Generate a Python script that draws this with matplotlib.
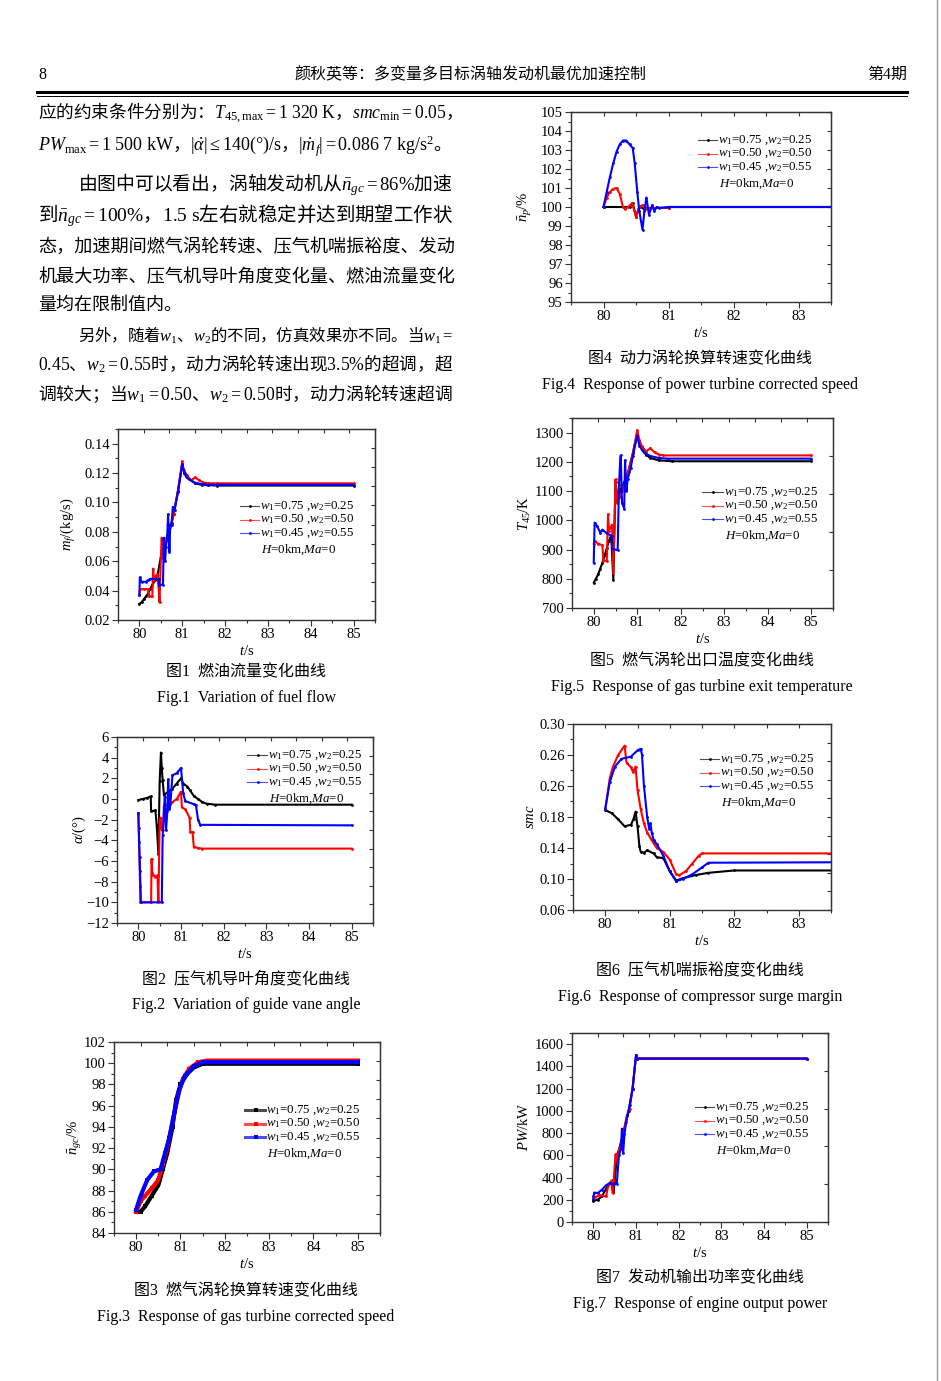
import numpy as np
import matplotlib
matplotlib.use('Agg')
import matplotlib.pyplot as plt
from matplotlib.lines import Line2D
from matplotlib.ticker import MultipleLocator

plt.rcParams['font.family'] = ['Liberation Serif', 'Noto Sans CJK SC']
plt.rcParams['mathtext.fontset'] = 'custom'
plt.rcParams['mathtext.rm'] = 'Liberation Serif'
plt.rcParams['mathtext.it'] = 'Liberation Serif:italic'
plt.rcParams['mathtext.bf'] = 'Liberation Serif:bold'

# ---- data ----
COLORS = ['#000000', '#ff0000', '#0000ff']
LEGEND_LABELS = [r'$w_1$=0.75 ,$w_2$=0.25', r'$w_1$=0.50 ,$w_2$=0.50', r'$w_1$=0.45 ,$w_2$=0.55']
COND_LABEL = r'$H$=0km,$Ma$=0'

# Fig.1 fuel flow (kg/s)
fuel_t_black = [80.0, 80.05, 80.1, 80.15, 80.2, 80.25, 80.3, 80.37, 80.42, 80.5, 80.55, 80.6, 80.65, 80.7,
                80.75, 80.8, 80.9, 81.0, 81.05, 81.1, 81.2, 81.3, 81.45, 81.6, 81.8, 85.0]
fuel_black = [0.031, 0.032, 0.034, 0.036, 0.038, 0.041, 0.044, 0.047, 0.050, 0.063, 0.068, 0.071, 0.075, 0.080,
              0.086, 0.092, 0.108, 0.126, 0.120, 0.117, 0.115, 0.113, 0.112, 0.1118, 0.1115, 0.1115]
fuel_t_red = [80.0, 80.01, 80.1, 80.2, 80.22, 80.3, 80.32, 80.34, 80.38, 80.42, 80.44, 80.47, 80.5, 80.52,
              80.55, 80.6, 80.65, 80.7, 80.75, 80.8, 80.9, 81.0, 81.03, 81.1, 81.2, 81.3, 81.4, 81.5, 81.6,
              81.8, 85.0]
fuel_red = [0.037, 0.041, 0.041, 0.041, 0.036, 0.036, 0.055, 0.047, 0.050, 0.051, 0.045, 0.032, 0.062, 0.076,
            0.065, 0.070, 0.076, 0.080, 0.086, 0.092, 0.108, 0.128, 0.122, 0.119, 0.115, 0.117, 0.115, 0.1135,
            0.113, 0.113, 0.113]
fuel_t_blue = [80.0, 80.01, 80.05, 80.15, 80.2, 80.25, 80.45, 80.46, 80.55, 80.57, 80.6, 80.62, 80.65, 80.67,
               80.7, 80.72, 80.75, 80.78, 80.82, 80.9, 81.0, 81.05, 81.15, 81.3, 81.45, 81.6, 81.8, 85.0]
fuel_blue = [0.037, 0.049, 0.046, 0.046, 0.047, 0.048, 0.048, 0.044, 0.044, 0.076, 0.060, 0.070, 0.078, 0.092,
             0.066, 0.085, 0.085, 0.097, 0.095, 0.107, 0.126, 0.120, 0.116, 0.1135, 0.1125, 0.112, 0.112, 0.112]

# Fig.2 guide vane angle (deg)
alpha_t_black = [80.0, 80.1, 80.2, 80.29, 80.3, 80.4, 80.43, 80.47, 80.5, 80.53, 80.55, 80.57, 80.6, 80.7,
                 80.8, 80.9, 81.0, 81.05, 81.15, 81.2, 81.3, 81.4, 81.5, 81.6, 81.8, 85.0]
alpha_black = [-0.1, 0.0, 0.1, 0.25, -1.2, -1.1, -2.5, -5.3, 1.7, 4.5, 3.0, 1.8, 0.4, 0.7,
               1.0, 1.5, 2.0, 1.5, 1.2, 0.9, 0.3, 0.0, -0.3, -0.45, -0.55, -0.55]
alpha_t_red = [80.0, 80.05, 80.3, 80.31, 80.33, 80.35, 80.4, 80.45, 80.47, 80.5, 80.52, 80.55, 80.58, 80.6,
               80.7, 80.8, 80.9, 81.0, 81.02, 81.1, 81.2, 81.22, 81.27, 81.3, 81.4, 81.5, 85.0]
alpha_red = [-1.4, -10.0, -10.0, -5.8, -7.2, -7.4, -7.5, -7.4, -10.0, -2.2, -1.8, -3.0, -3.0, -0.6,
             -0.5, -0.3, 0.0, 0.7, -0.8, -1.0, -1.8, -3.2, -3.2, -4.6, -4.75, -4.8, -4.8]
alpha_t_blue = [80.0, 80.01, 80.02, 80.03, 80.04, 80.05, 80.06, 80.55, 80.57, 80.6, 80.62, 80.65, 80.68, 80.7,
                80.73, 80.75, 80.8, 80.9, 81.0, 81.05, 81.1, 81.3, 81.35, 81.4, 81.45, 85.0]
alpha_blue = [-1.4, -2.8, -4.2, -5.6, -7.0, -8.4, -10.0, -10.0, -3.5, -1.5, 0.2, -3.0, -1.2, 1.9,
              -1.0, -0.5, 2.3, 2.5, 3.0, 0.6, -0.2, -0.5, -0.6, -2.0, -2.5, -2.55]

# Fig.3 gas turbine corrected speed (%)
ngc_t_black = [80.0, 80.1, 80.2, 80.35, 80.5, 80.6, 80.7, 80.82, 80.9, 81.0, 81.15, 81.3, 81.5, 85.0]
ngc_black = [86.0, 86.0, 86.5, 87.5, 88.5, 90.0, 91.5, 94.0, 96.5, 98.0, 99.0, 99.6, 99.95, 99.95]
ngc_t_red = [80.0, 80.1, 80.2, 80.35, 80.5, 80.6, 80.7, 80.82, 80.95, 81.05, 81.2, 81.4, 81.6, 85.0]
ngc_red = [86.0, 87.0, 87.5, 88.2, 89.0, 90.5, 92.0, 94.5, 97.0, 98.5, 99.5, 100.1, 100.25, 100.25]
ngc_t_blue = [80.0, 80.1, 80.25, 80.4, 80.55, 80.65, 80.75, 80.87, 80.97, 81.1, 81.3, 81.5, 85.0]
ngc_blue = [86.2, 87.5, 89.0, 89.8, 90.0, 91.5, 93.0, 95.5, 97.5, 98.8, 99.7, 100.1, 100.1]

# Fig.4 power turbine corrected speed (%)
npt_t_black = [80.0, 80.4, 80.45, 80.5, 80.55, 80.6, 81.0, 81.01, 85.0]
npt_black = [100.0, 100.0, 100.2, 99.5, 100.0, 99.95, 99.95, 100.0, 100.0]
npt_t_red = [80.0, 80.05, 80.1, 80.15, 80.2, 80.25, 80.3, 80.33, 80.38, 80.44, 80.5, 80.55, 80.6, 80.65,
             80.7, 81.0, 81.01, 85.0]
npt_red = [100.0, 100.5, 100.8, 100.95, 101.0, 100.7, 100.0, 99.9, 100.0, 100.2, 99.5, 100.0, 100.1, 99.9,
           99.95, 99.95, 100.0, 100.0]
npt_t_blue = [80.0, 80.05, 80.1, 80.15, 80.2, 80.25, 80.3, 80.35, 80.4, 80.45, 80.48, 80.52, 80.55, 80.6,
              80.63, 80.66, 80.7, 80.75, 80.78, 80.82, 80.85, 81.0, 85.0]
npt_blue = [100.0, 100.8, 101.6, 102.3, 102.9, 103.3, 103.5, 103.5, 103.3, 103.1, 102.3, 100.8, 99.8, 98.8,
            99.8, 100.5, 99.6, 100.1, 99.8, 100.0, 99.95, 100.0, 100.0]

# Fig.5 gas turbine exit temperature (K)
t45_t_black = [80.0, 80.05, 80.1, 80.15, 80.2, 80.25, 80.3, 80.35, 80.4, 80.45, 80.5, 80.55, 80.6, 80.7,
               80.8, 80.9, 81.0, 81.05, 81.1, 81.2, 81.3, 81.5, 81.8, 85.0]
t45_black = [787, 800, 815, 835, 855, 880, 905, 930, 948, 797, 1130, 1075, 1100, 1130,
             1170, 1230, 1298, 1265, 1245, 1225, 1213, 1205, 1202, 1202]
t45_t_red = [80.0, 80.02, 80.1, 80.2, 80.22, 80.3, 80.32, 80.33, 80.35, 80.42, 80.45, 80.5, 80.53, 80.56,
             80.6, 80.65, 80.7, 80.8, 80.9, 81.0, 81.05, 81.1, 81.2, 81.3, 81.4, 81.5, 81.6, 85.0]
t45_red = [920, 930, 920, 915, 862, 862, 970, 1020, 965, 985, 820, 1140, 1060, 1095,
           1080, 1100, 1120, 1170, 1230, 1308, 1275, 1255, 1235, 1247, 1232, 1225, 1222, 1222]
t45_t_blue = [80.0, 80.02, 80.07, 80.15, 80.2, 80.3, 80.4, 80.42, 80.43, 80.55, 80.58, 80.6, 80.62, 80.65,
              80.7, 80.72, 80.75, 80.78, 80.85, 80.9, 81.0, 81.05, 81.15, 81.3, 81.5, 81.7, 85.0]
t45_blue = [855, 992, 982, 958, 968, 955, 948, 945, 902, 898, 1120, 1180, 1222, 1060,
            1040, 1205, 1100, 1140, 1180, 1220, 1290, 1255, 1232, 1220, 1213, 1211, 1211]

# Fig.6 compressor surge margin
smc_t_black = [80.0, 80.1, 80.2, 80.3, 80.4, 80.44, 80.47, 80.5, 80.53, 80.55, 80.6, 80.65, 80.75, 80.8,
               80.9, 81.0, 81.1, 81.2, 81.4, 81.6, 82.0, 85.0]
smc_black = [0.189, 0.185, 0.177, 0.168, 0.170, 0.178, 0.187, 0.168, 0.142, 0.135, 0.134, 0.137, 0.133, 0.128,
             0.127, 0.110, 0.098, 0.101, 0.105, 0.108, 0.111, 0.111]
smc_t_red = [80.0, 80.07, 80.12, 80.2, 80.3, 80.33, 80.4, 80.43, 80.47, 80.5, 80.55, 80.6, 80.65, 80.75,
             80.8, 80.9, 81.0, 81.1, 81.15, 81.25, 81.35, 81.45, 81.5, 85.0]
smc_red = [0.190, 0.230, 0.245, 0.260, 0.272, 0.250, 0.244, 0.238, 0.245, 0.215, 0.190, 0.172, 0.160, 0.146,
           0.140, 0.135, 0.125, 0.106, 0.105, 0.110, 0.120, 0.130, 0.133, 0.133]
smc_t_blue = [80.0, 80.07, 80.15, 80.25, 80.4, 80.5, 80.55, 80.57, 80.6, 80.65, 80.68, 80.7, 80.72, 80.75,
              80.8, 80.9, 81.0, 81.1, 81.2, 81.35, 81.5, 81.6, 85.0]
smc_blue = [0.190, 0.225, 0.245, 0.255, 0.258, 0.266, 0.268, 0.260, 0.220, 0.180, 0.165, 0.172, 0.160, 0.150,
            0.145, 0.130, 0.110, 0.097, 0.100, 0.106, 0.115, 0.121, 0.122]
smc_ticks = [0.06, 0.10, 0.14, 0.18, 0.22, 0.26, 0.30]
smc_ticklabels = ['0.06', '0.10', '0.14', '0.18', '0.26', '0.26', '0.30']

# Fig.7 engine output power (kW)
pw_t_black = [80.0, 80.1, 80.2, 80.3, 80.4, 80.45, 80.47, 80.5, 80.55, 80.6, 80.7, 80.83, 80.92, 81.0, 81.02, 85.0]
pw_black = [190, 200, 230, 300, 350, 375, 270, 350, 600, 650, 800, 1000, 1200, 1500, 1470, 1470]
pw_t_red = [80.0, 80.05, 80.15, 80.3, 80.35, 80.42, 80.45, 80.48, 80.52, 80.55, 80.6, 80.65, 80.72, 80.78,
            80.85, 80.92, 81.0, 81.02, 85.0]
pw_red = [230, 225, 240, 230, 330, 370, 260, 380, 610, 550, 650, 700, 830, 950, 1020, 1200, 1490, 1470, 1470]
pw_t_blue = [80.0, 80.02, 80.1, 80.2, 80.3, 80.38, 80.45, 80.55, 80.6, 80.65, 80.67, 80.7, 80.73, 80.77,
             80.8, 80.85, 80.92, 81.0, 81.02, 85.0]
pw_blue = [210, 265, 260, 290, 330, 350, 340, 345, 600, 660, 840, 620, 790, 900, 960, 1050, 1200, 1500, 1470, 1470]

# ---- page text ----
header_title = '颜秋英等：多变量多目标涡轴发动机最优加速控制'
body_lines = [
    (r'应的约束条件分别为：$T_{45,\mathrm{max}}\mathrm{=1\ 320\ K}$，$smc_{\mathrm{min}}\mathrm{=0.05}$，', 38, 113, True),
    (r'$PW_{\mathrm{max}}\mathrm{=1\ 500\ kW}$，$|\dot{\alpha}|\leq\mathrm{140(\degree)/s}$，$|\dot{m}_f|\mathrm{=0.086\ 7\ kg/s^2}$。', 38, 146, False),
    (r'由图中可以看出，涡轴发动机从$\bar{n}_{gc}\mathrm{=86\%}$加速', 78, 185, True),
    (r'到$\bar{n}_{gc}\mathrm{=100\%}$，$\mathrm{1.5\ s}$左右就稳定并达到期望工作状', 38, 216, True),
    ('态，加速期间燃气涡轮转速、压气机喘振裕度、发动', 38, 247, True),
    ('机最大功率、压气机导叶角度变化量、燃油流量变化', 38, 277, True),
    ('量均在限制值内。', 38, 305, False),
    (r'另外，随着$w_1$、$w_2$的不同，仿真效果亦不同。当$w_1\mathrm{=}$', 78, 335, True),
    (r'$\mathrm{0.45}$、$w_2\mathrm{=0.55}$时，动力涡轮转速出现$\mathrm{3.5\%}$的超调，超', 38, 364, True),
    (r'调较大；当$w_1\mathrm{=0.50}$、$w_2\mathrm{=0.50}$时，动力涡轮转速超调', 38, 394, True),
]

W, H = 941, 1381
fig = plt.figure(figsize=(W / 100, H / 100), dpi=100)


def fx(x):
    return x / W


def fy(y):
    return 1 - y / H


def make_axes(box, xlim, xticks, ylim, yticks, yminor, top_n, right_n, yticklabels=None):
    l, r, t, b = box
    ax = fig.add_axes([l / W, 1 - b / H, (r - l) / W, (b - t) / H])
    ax.set_xlim(xlim)
    ax.set_ylim(ylim)
    ax.set_xticks(xticks)
    ax.set_yticks(yticks)
    if yticklabels is not None:
        ax.set_yticklabels(yticklabels)
    ax.xaxis.set_minor_locator(MultipleLocator(0.5))
    ax.yaxis.set_minor_locator(MultipleLocator(yminor))
    ax.tick_params(which='both', direction='out', labelsize=10.5, width=0.8, color='#333', pad=2)
    ax.tick_params(which='major', length=4)
    ax.tick_params(which='minor', length=2)
    for s in ax.spines.values():
        s.set_linewidth(1.0)
        s.set_color('#333')
    sx = ax.secondary_xaxis('top')
    sx.set_xticks(np.linspace(xlim[0], xlim[1], top_n + 1))
    sx.xaxis.set_ticklabels([])
    sx.tick_params(direction='in', length=3, width=0.8, color='#333')
    sx.spines['top'].set_color('#333')
    sy = ax.secondary_yaxis('right')
    sy.set_yticks(np.linspace(ylim[0], ylim[1], right_n + 1))
    sy.yaxis.set_ticklabels([])
    sy.tick_params(direction='in', length=3, width=0.8, color='#333')
    sy.spines['right'].set_color('#333')
    fig.text(fx((l + r) / 2), fy(b + 31), r'$t$/s', ha='center', va='center', fontsize=10.5)
    return ax


def plot_series(ax, series, lw=1.5, marker='.', ms=4.0):
    for (t, v), c in zip(series, COLORS):
        ax.plot(t, v, color=c, lw=lw, marker=marker, ms=ms, mew=0)


def add_legend(hx, tx, y0, marker='.', ms=4.0, lw=0.8):
    # three entries stacked tightly, then the flight condition line
    for i, (c, lab) in enumerate(zip(COLORS, LEGEND_LABELS)):
        y = y0 + 13.5 * i
        fig.add_artist(Line2D([fx(hx), fx(tx - 1)], [fy(y), fy(y)], transform=fig.transFigure,
                              color=c, lw=lw, alpha=0.7))
        fig.add_artist(Line2D([fx((hx + tx) / 2)], [fy(y)], transform=fig.transFigure,
                              color=c, marker=marker, ms=ms, mew=0))
        fig.text(fx(tx), fy(y), lab, ha='left', va='center', fontsize=9.3)
    fig.text(fx(tx + 1), fy(y0 + 44), COND_LABEL, ha='left', va='center', fontsize=9.3)


def add_caption(cx, y1, cn, en):
    fig.text(fx(cx), fy(y1), cn, ha='center', va='center', fontsize=11.5,
             family=['Liberation Serif', 'Noto Sans CJK SC'])
    fig.text(fx(cx), fy(y1 + 26), en, ha='center', va='center', fontsize=11.5)


# ---- header ----
fig.text(fx(38), fy(75), '8', ha='left', va='center', fontsize=11.5)
fig.text(fx(470), fy(74), header_title, ha='center', va='center', fontsize=11.5,
         family=['Liberation Serif', 'Noto Sans CJK SC'])
fig.text(fx(907), fy(75), '第4期', ha='right', va='center', fontsize=11.5,
         family=['Liberation Serif', 'Noto Sans CJK SC'])
fig.add_artist(Line2D([fx(37), fx(907)], [fy(91.5), fy(91.5)], transform=fig.transFigure, color='black', lw=2.2))
fig.add_artist(Line2D([fx(37), fx(907)], [fy(95.5), fy(95.5)], transform=fig.transFigure, color='black', lw=0.7))
fig.add_artist(Line2D([fx(937), fx(937)], [0, 1], transform=fig.transFigure, color='#999999', lw=1.0))

justify = []
for text, x0, y, just in body_lines:
    t = fig.text(fx(x0), fy(y), text, ha='left', va='center', fontsize=13, family=['Noto Sans CJK SC'])
    if just:
        justify.append((t, 453 - x0))

# ---- Fig.1 ----
ax1 = make_axes((118, 375, 429, 620), (79.5, 85.5), [80, 81, 82, 83, 84, 85],
                (0.02, 0.15), [0.02, 0.04, 0.06, 0.08, 0.10, 0.12, 0.14], 0.01, 10, 10)
ax1.set_yticklabels(['0.02', '0.04', '0.06', '0.08', '0.10', '0.12', '0.14'])
plot_series(ax1, [(fuel_t_black, fuel_black), (fuel_t_red, fuel_red), (fuel_t_blue, fuel_blue)])
fig.text(fx(68), fy(524), r'$m_f$/(kg/s)', rotation=90, ha='center', va='center', fontsize=10.5)
add_legend(240, 260, 506)
add_caption(246, 672, '图1  燃油流量变化曲线', 'Fig.1  Variation of fuel flow')

# ---- Fig.4 ----
ax4 = make_axes((571, 831, 112, 302), (79.5, 83.5), [80, 81, 82, 83],
                (95, 105), list(range(95, 106)), 0.5, 8, 10)
plot_series(ax4, [(npt_t_black, npt_black), (npt_t_red, npt_red), (npt_t_blue, npt_blue)])
fig.text(fx(525), fy(207), r'$\bar{n}_p$/%', rotation=90, ha='center', va='center', fontsize=10.5)
add_legend(698, 718, 140)
add_caption(700, 359, '图4  动力涡轮换算转速变化曲线', 'Fig.4  Response of power turbine corrected speed')

# ---- Fig.5 ----
ax5 = make_axes((572, 833, 418, 608), (79.5, 85.5), [80, 81, 82, 83, 84, 85],
                (700, 1350), list(range(700, 1301, 100)), 50, 10, 5)
plot_series(ax5, [(t45_t_black, t45_black), (t45_t_red, t45_red), (t45_t_blue, t45_blue)])
fig.text(fx(525), fy(513), r'$T_{45}$/K', rotation=90, ha='center', va='center', fontsize=10.5)
add_legend(702, 724, 492)
add_caption(702, 661, '图5  燃气涡轮出口温度变化曲线', 'Fig.5  Response of gas turbine exit temperature')

# ---- Fig.2 ----
ax2 = make_axes((117, 373, 737, 923), (79.5, 85.5), [80, 81, 82, 83, 84, 85],
                (-12, 6), list(range(-12, 7, 2)), 1, 10, 10)
ax2.set_yticklabels(['\u221212', '\u221210', '\u22128', '\u22126', '\u22124', '\u22122', '0', '2', '4', '6'])
plot_series(ax2, [(alpha_t_black, alpha_black), (alpha_t_red, alpha_red), (alpha_t_blue, alpha_blue)])
fig.text(fx(79), fy(830), r'$\alpha$/(°)', rotation=90, ha='center', va='center', fontsize=10.5)
add_legend(247, 268, 755)
add_caption(246, 979, '图2  压气机导叶角度变化曲线', 'Fig.2  Variation of guide vane angle')

# ---- Fig.6 ----
ax6 = make_axes((573, 831, 724, 910), (79.5, 83.5), [80, 81, 82, 83],
                (0.06, 0.30), smc_ticks, 0.02, 8, 10, yticklabels=smc_ticklabels)
plot_series(ax6, [(smc_t_black, smc_black), (smc_t_red, smc_red), (smc_t_blue, smc_blue)])
fig.text(fx(530), fy(817), r'$smc$', rotation=90, ha='center', va='center', fontsize=10.5)
add_legend(700, 720, 759)
add_caption(700, 971, '图6  压气机喘振裕度变化曲线', 'Fig.6  Response of compressor surge margin')

# ---- Fig.3 ----
ax3 = make_axes((114, 380, 1042, 1233), (79.5, 85.5), [80, 81, 82, 83, 84, 85],
                (84, 102), list(range(84, 103, 2)), 1, 10, 10)
plot_series(ax3, [(ngc_t_black, ngc_black), (ngc_t_red, ngc_red), (ngc_t_blue, ngc_blue)],
            lw=3.0, marker='s', ms=3.0)
fig.text(fx(75), fy(1137), r'$\bar{n}_{gc}$/%', rotation=90, ha='center', va='center', fontsize=10.5)
add_legend(245, 266, 1110, marker='s', ms=3.5, lw=2.2)
add_caption(246, 1291, '图3  燃气涡轮换算转速变化曲线', 'Fig.3  Response of gas turbine corrected speed')

# ---- Fig.7 ----
ax7 = make_axes((572, 828, 1033, 1222), (79.5, 85.5), [80, 81, 82, 83, 84, 85],
                (0, 1700), list(range(0, 1601, 200)), 100, 10, 5)
plot_series(ax7, [(pw_t_black, pw_black), (pw_t_red, pw_red), (pw_t_blue, pw_blue)])
fig.text(fx(524), fy(1127), r'$PW$/kW', rotation=90, ha='center', va='center', fontsize=10.5)
add_legend(695, 715, 1107)
add_caption(700, 1278, '图7  发动机输出功率变化曲线', 'Fig.7  Response of engine output power')

# stretch the full body lines to the column width
fig.canvas.draw()
renderer = fig.canvas.get_renderer()
for t, target in justify:
    w = t.get_window_extent(renderer).width
    scale = min(max(target / w, 0.9), 1.12)
    t.set_fontsize(13 * scale)

fig.savefig('out.png', dpi=100)
